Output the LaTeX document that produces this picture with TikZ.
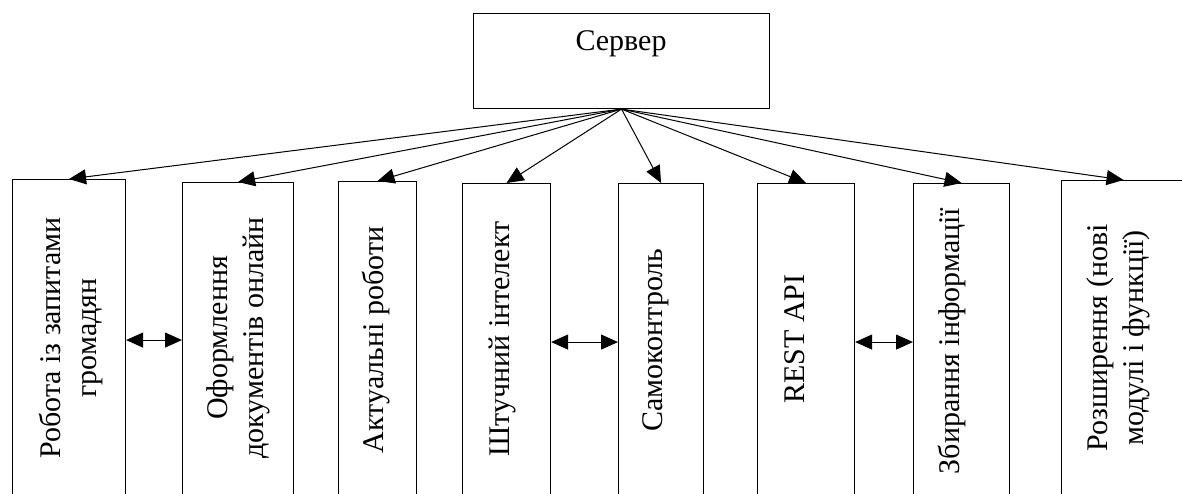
\documentclass[tikz,border=0pt]{standalone}
\usepackage{fontspec}
\setmainfont{Liberation Serif}
\usetikzlibrary{arrows.meta}
\tikzset{
  box/.style={draw=black, line width=1.1pt, fill=none, inner sep=0pt, anchor=north west},
  lbl/.style={rotate=90, align=center, inner sep=0pt, font=\fontsize{30}{36}\selectfont},
  arr/.style={line width=1pt, -{Triangle[length=17pt,width=15pt]}},
  darr/.style={line width=1pt, {Triangle[length=17pt,width=15pt]}-{Triangle[length=17pt,width=15pt]}}
}
\begin{document}
\begin{tikzpicture}[x=1pt,y=-1pt]
\useasboundingbox (0,0) rectangle (1182,494);
\clip (0,0) rectangle (1182,494);
% server
\node[box, minimum width=296pt, minimum height=95pt] (srv) at (473,13) {};
\node[anchor=base, inner sep=0pt, font=\fontsize{30}{36}\selectfont] (srvt) at (621,51) {Сервер};
% boxes
\node[box, minimum width=113pt, minimum height=321pt] (b1) at (12,179) {};
\node[box, minimum width=111pt, minimum height=318pt] (b2) at (182,182) {};
\node[box, minimum width=78pt, minimum height=319pt] (b3) at (338,181) {};
\node[box, minimum width=88pt, minimum height=317pt] (b4) at (462,183) {};
\node[box, minimum width=85pt, minimum height=317pt] (b5) at (618,183) {};
\node[box, minimum width=97pt, minimum height=317pt] (b6) at (757,183) {};
\node[box, minimum width=96pt, minimum height=317pt] (b7) at (913,183) {};
\node[box, minimum width=124pt, minimum height=320pt] (b8) at (1061,180) {};
% labels
\node[lbl] (t1) at (71,338) {Робота із запитами\\громадян};
\node[lbl] (t2) at (238,338) {Оформлення\\документів онлайн};
\node[lbl] (t3) at (376,340) {Актуальні роботи};
\node[lbl] (t4) at (502,339) {Штучний інтелект};
\node[lbl] (t5) at (656,340) {Самоконтроль};
\node[lbl] (t6) at (795,339) {REST API};
\node[lbl] (t7) at (952,341) {Збирання інформації};
\node[lbl] (t8) at (1118,338) {Розширення (нові\\модулі і функції)};
% connectors
\foreach \b in {b1,b2,b3,b4,b5,b6,b7,b8}
  \draw[arr] (srv.south) -- (\b.north);
\draw[darr] (b1.east) -- (b1.east -| b2.west);
\draw[darr] (b4.east) -- (b4.east -| b5.west);
\draw[darr] (b6.east) -- (b6.east -| b7.west);
\end{tikzpicture}
\end{document}
